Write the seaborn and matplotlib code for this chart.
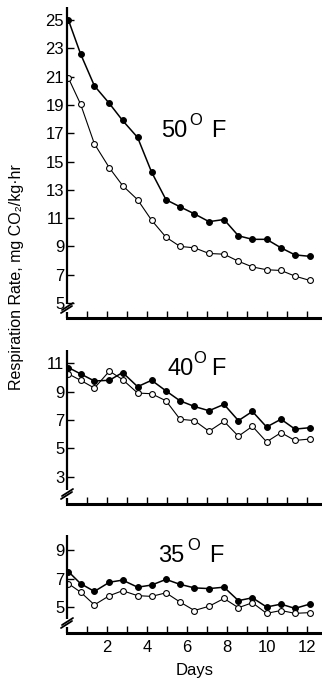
import matplotlib
matplotlib.use('Agg')
import matplotlib.pyplot as plt
import seaborn as sns

# sampling days (shared by all three temperatures)
days = [0.07, 0.68, 1.37, 2.12, 2.78, 3.53, 4.23, 4.95, 5.65, 6.37,
        7.1, 7.85, 8.57, 9.27, 9.98, 10.7, 11.4, 12.13]

# 50 F
f50_filled = [25.0, 22.6, 20.35, 19.1, 17.9, 16.7, 14.25, 12.3, 11.8, 11.3,
              10.75, 10.9, 9.75, 9.5, 9.5, 8.9, 8.4, 8.3]
f50_open = [20.9, 19.05, 16.25, 14.55, 13.3, 12.3, 10.85, 9.65, 9.0, 8.9,
            8.5, 8.45, 7.95, 7.55, 7.35, 7.3, 6.9, 6.6]

# 40 F
f40_filled = [10.7, 10.25, 9.75, 9.8, 10.35, 9.35, 9.8, 9.05, 8.35, 7.95,
              7.65, 8.1, 6.95, 7.6, 6.5, 7.05, 6.35, 6.45]
f40_open = [10.25, 9.8, 9.25, 10.45, 9.85, 8.9, 8.85, 8.35, 7.05, 6.95,
            6.2, 6.9, 5.85, 6.55, 5.45, 6.1, 5.55, 5.65]

# 35 F
f35_filled = [7.5, 6.65, 6.1, 6.75, 6.9, 6.4, 6.55, 6.95, 6.6, 6.35,
              6.3, 6.4, 5.45, 5.65, 5.0, 5.2, 4.9, 5.2]
f35_open = [6.65, 6.05, 5.15, 5.8, 6.15, 5.8, 5.75, 6.0, 5.35, 4.75,
            5.05, 5.6, 4.95, 5.3, 4.55, 4.75, 4.55, 4.6]

titles = ['50', '40', '35']
yticks = [list(range(5, 26, 2)), list(range(3, 12, 2)), [5, 7, 9]]
ylims = [(3.94, 25.92), (1.06, 11.94), (3.16, 10.09)]
series = [(f50_filled, f50_open), (f40_filled, f40_open), (f35_filled, f35_open)]

sns.set_style('ticks')
plt.rcParams['font.family'] = ['Liberation Sans', 'DejaVu Sans']
plt.rcParams['text.color'] = 'black'
plt.rcParams['axes.labelcolor'] = 'black'

W, H = 322, 681
fig = plt.figure(figsize=(W / 100, H / 100), dpi=100)

# panel boxes in pixels: (top, bottom)
boxes = [(7, 318), (350, 504), (535, 633)]
left_px = 67
width_px = W - left_px
# title pieces: (num_x, baseline, O_x, O_baseline, F_x)
title_pos = [(161, 137, 189, 125, 211),
             (168, 375, 193, 363, 211),
             (158, 562, 187, 550, 209)]

for i, (top, bot) in enumerate(boxes):
    h_px = bot - top
    ax = fig.add_axes([left_px / W, 1 - bot / H, width_px / W, h_px / H])
    filled, opened = series[i]
    sns.lineplot(x=days, y=filled, ax=ax, color='black', lw=1.1, marker='o',
                 markersize=4.2, markerfacecolor='black', markeredgecolor='black')
    sns.lineplot(x=days, y=opened, ax=ax, color='black', lw=0.8, marker='o',
                 markersize=4.2, markerfacecolor='white', markeredgecolor='black',
                 markeredgewidth=0.8)
    ax.set_xlim(0, 12.75)
    ax.set_ylim(*ylims[i])
    ax.set_yticks(yticks[i])
    ax.set_xticks(range(1, 13))
    if i == 2:
        ax.set_xticklabels(['' if d % 2 else str(d) for d in range(1, 13)])
        ax.set_xlabel('Days', fontsize=12, labelpad=6)
    else:
        ax.set_xticklabels([])
    ax.tick_params(axis='both', direction='in', length=5, width=1,
                   labelsize=12, pad=2, colors='black')
    ax.tick_params(axis='x', pad=5)
    for s in ['top', 'right', 'left']:
        ax.spines[s].set_visible(False)
    ax.spines['bottom'].set_linewidth(2.2)
    ax.spines['bottom'].set_color('black')

    # left spine with a break near the bottom
    fy = lambda p: p / h_px
    fx = lambda p: p / width_px
    ax.plot([0, 0], [fy(14), 1], transform=ax.transAxes, color='black',
            lw=1.6, clip_on=False, solid_capstyle='butt')
    ax.plot([0, 0], [0, fy(6)], transform=ax.transAxes, color='black',
            lw=1.6, clip_on=False, solid_capstyle='butt')
    ax.plot([fx(-6), fx(5)], [fy(5), fy(12)], transform=ax.transAxes,
            color='black', lw=1.3, clip_on=False)
    ax.plot([fx(-5), fx(6)], [fy(8), fy(15)], transform=ax.transAxes,
            color='black', lw=1.3, clip_on=False)

    nx, nb, ox, ob, fxp = title_pos[i]
    fig.text(nx / W, 1 - nb / H, titles[i], fontsize=17, va='baseline', ha='left')
    fig.text(ox / W, 1 - ob / H, 'O', fontsize=12, va='baseline', ha='left')
    fig.text(fxp / W, 1 - nb / H, 'F', fontsize=17, va='baseline', ha='left')

fig.text(17 / W, 1 - 277 / H, 'Respiration Rate, mg CO\u2082/kg\u00b7hr',
         rotation=90, fontsize=11.5, va='center', ha='center')

fig.savefig('out.png', dpi=100)
